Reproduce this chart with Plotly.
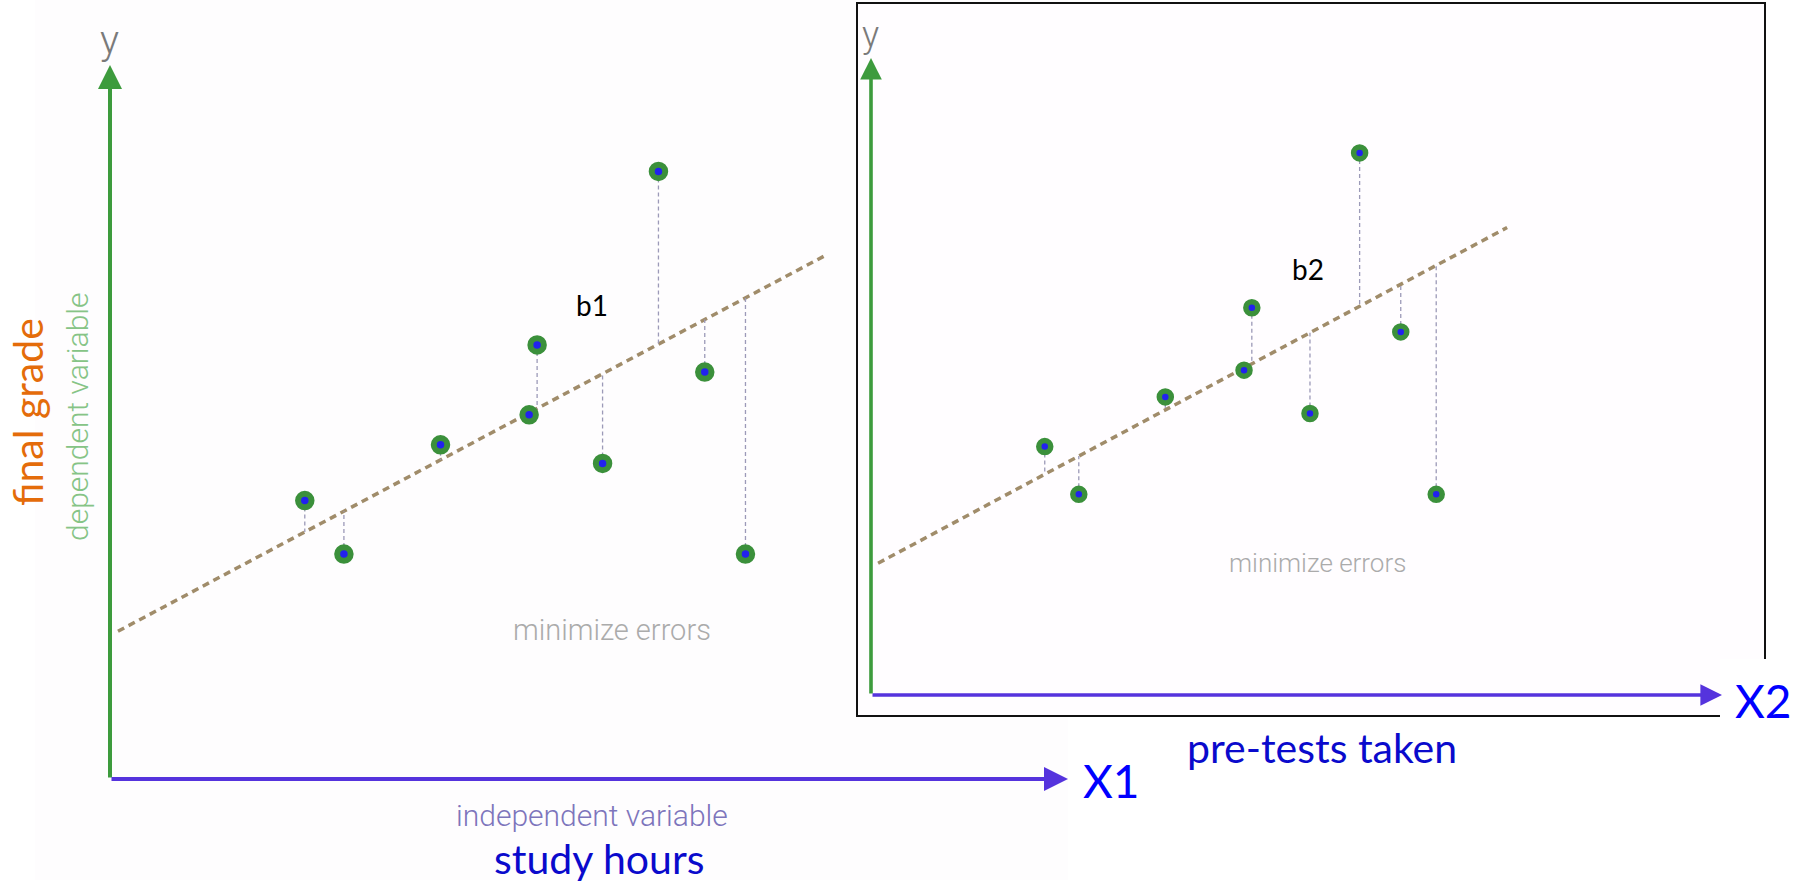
import plotly.graph_objects as go

# ---- data -------------------------------------------------------------
study_hours = [2.44, 2.93, 4.14, 5.25, 5.35, 6.17, 6.87, 7.45, 7.96]
pretests_taken = [2.45, 2.93, 4.15, 5.26, 5.37, 6.19, 6.89, 7.47, 7.97]
final_grade = [39.0, 31.5, 46.8, 51.0, 60.8, 44.2, 85.1, 57.0, 31.5]

fit_intercept = 20.1
fit_slope = 5.94
fit_x_span = [0.1, 8.97]

X_MAX = 12
Y_MAX = 100

# ---- page geometry ----------------------------------------------------
W, H = 1803, 882


def px(x, y):
    """Pixel position on the page -> paper coordinates."""
    return x / W, 1 - y / H


GREEN = "#3d9b3d"
PURPLE = "#5533dd"
FIT = "#a08c6a"
RESID = "#9c9ab8"
BLUE_DOT = "#2222ee"
RING = "#3b903b"
LIGHT = "Roboto"
CALIBRI = "Lato"

fig = go.Figure()


def add_panel(fig, xs, ys, xa, ya, ring_size, ring_width):
    fit_y = [fit_intercept + fit_slope * v for v in fit_x_span]
    fig.add_trace(go.Scatter(
        x=fit_x_span, y=fit_y, mode="lines", xaxis=xa, yaxis=ya,
        line=dict(color=FIT, width=3.5, dash="7px,5px"), hoverinfo="skip"))
    rx, ry = [], []
    for xv, yv in zip(xs, ys):
        rx += [xv, xv, None]
        ry += [yv, fit_intercept + fit_slope * xv, None]
    fig.add_trace(go.Scatter(
        x=rx, y=ry, mode="lines", xaxis=xa, yaxis=ya,
        line=dict(color=RESID, width=1.3, dash="4px,3px"), hoverinfo="skip"))
    fig.add_trace(go.Scatter(
        x=xs, y=ys, mode="markers", xaxis=xa, yaxis=ya, cliponaxis=False,
        marker=dict(size=ring_size, color=BLUE_DOT,
                    line=dict(color=RING, width=ring_width))))


add_panel(fig, study_hours, final_grade, "x", "y", 13.5, 6)
add_panel(fig, pretests_taken, final_grade, "x2", "y2", 12, 5.5)

annotations = []


def axis_arrows(xr, yr, width):
    annotations.append(dict(
        x=0, y=Y_MAX, ax=0, ay=0, xref=xr, yref=yr, axref=xr, ayref=yr,
        text="", showarrow=True, arrowhead=2, arrowsize=1.2,
        arrowwidth=width, arrowcolor=GREEN))
    annotations.append(dict(
        x=X_MAX, y=0, ax=0, ay=0, xref=xr, yref=yr, axref=xr, ayref=yr,
        text="", showarrow=True, arrowhead=2, arrowsize=1.2,
        arrowwidth=width, arrowcolor=PURPLE))


axis_arrows("x", "y", 4)
axis_arrows("x2", "y2", 3.6)


def label(x, y, text, size, color, family, weight=400, angle=0):
    px_, py_ = px(x, y)
    annotations.append(dict(
        x=px_, y=py_, xref="paper", yref="paper", text=text,
        showarrow=False, xanchor="center", yanchor="middle", textangle=angle,
        font=dict(size=size, color=color, family=family, weight=weight)))


# left panel texts
label(109, 40, "y", 40, "#7a7a7a", LIGHT, 300)
label(28, 412, "final grade", 41, "#e46c0a", CALIBRI, angle=-90)
label(77, 417, "dependent variable", 30, "#86c486", LIGHT, 300, angle=-90)
label(592, 815, "independent variable", 30, "#7d75bc", LIGHT, 300)
label(599, 858, "study hours", 41, "#0a0acc", CALIBRI)
label(1111, 780, "X1", 46, "#0000ff", CALIBRI)
label(592, 305, "b1", 28, "#000000", CALIBRI)
label(612, 630, "minimize errors", 29, "#ababab", LIGHT, 300)

# right panel texts
label(870, 35, "y", 36, "#7a7a7a", LIGHT, 300)
label(1322, 747, "pre-tests taken", 41, "#0a0acc", CALIBRI)
label(1763, 700, "X2", 46, "#0000ff", CALIBRI)
label(1308, 269, "b2", 28, "#000000", CALIBRI)
label(1317, 563, "minimize errors", 26, "#ababab", LIGHT, 300)

# backgrounds and the frame around the second panel
x0, y1 = px(35, 0)
x1, y0 = px(1068, 880)
bx0, by1 = px(857, 3)
bx1, by0 = px(1765, 716)
wx0, wy1 = px(1720, 659)
wx1, wy0 = px(1803, 740)
shapes = [
    dict(type="rect", xref="paper", yref="paper", x0=x0, x1=x1, y0=y0, y1=y1,
         fillcolor="#fefdfe", line=dict(width=0), layer="below"),
    dict(type="rect", xref="paper", yref="paper", x0=bx0, x1=bx1, y0=by0, y1=by1,
         fillcolor="#fffdff", line=dict(color="#111111", width=2), layer="below"),
    dict(type="rect", xref="paper", yref="paper", x0=wx0, x1=wx1, y0=wy0, y1=wy1,
         fillcolor="#ffffff", line=dict(width=0), layer="below"),
]

lx0, _ = px(110, 0)
lx1, _ = px(1068, 0)
_, ly0 = px(0, 779)
_, ly1 = px(0, 65)
rx0, _ = px(871, 0)
rx1, _ = px(1722, 0)
_, ry0 = px(0, 695)
_, ry1 = px(0, 58)

hidden = dict(visible=False, fixedrange=True)
fig.update_layout(
    width=W, height=H, autosize=False,
    margin=dict(l=0, r=0, t=0, b=0),
    paper_bgcolor="#ffffff", plot_bgcolor="rgba(0,0,0,0)",
    showlegend=False,
    xaxis=dict(domain=[lx0, lx1], range=[0, X_MAX], **hidden),
    yaxis=dict(domain=[ly0, ly1], range=[0, Y_MAX], **hidden),
    xaxis2=dict(domain=[rx0, rx1], range=[0, X_MAX], anchor="y2", **hidden),
    yaxis2=dict(domain=[ry0, ry1], range=[0, Y_MAX], anchor="x2", **hidden),
    annotations=annotations,
    shapes=shapes,
)

fig.write_html("out.html")
